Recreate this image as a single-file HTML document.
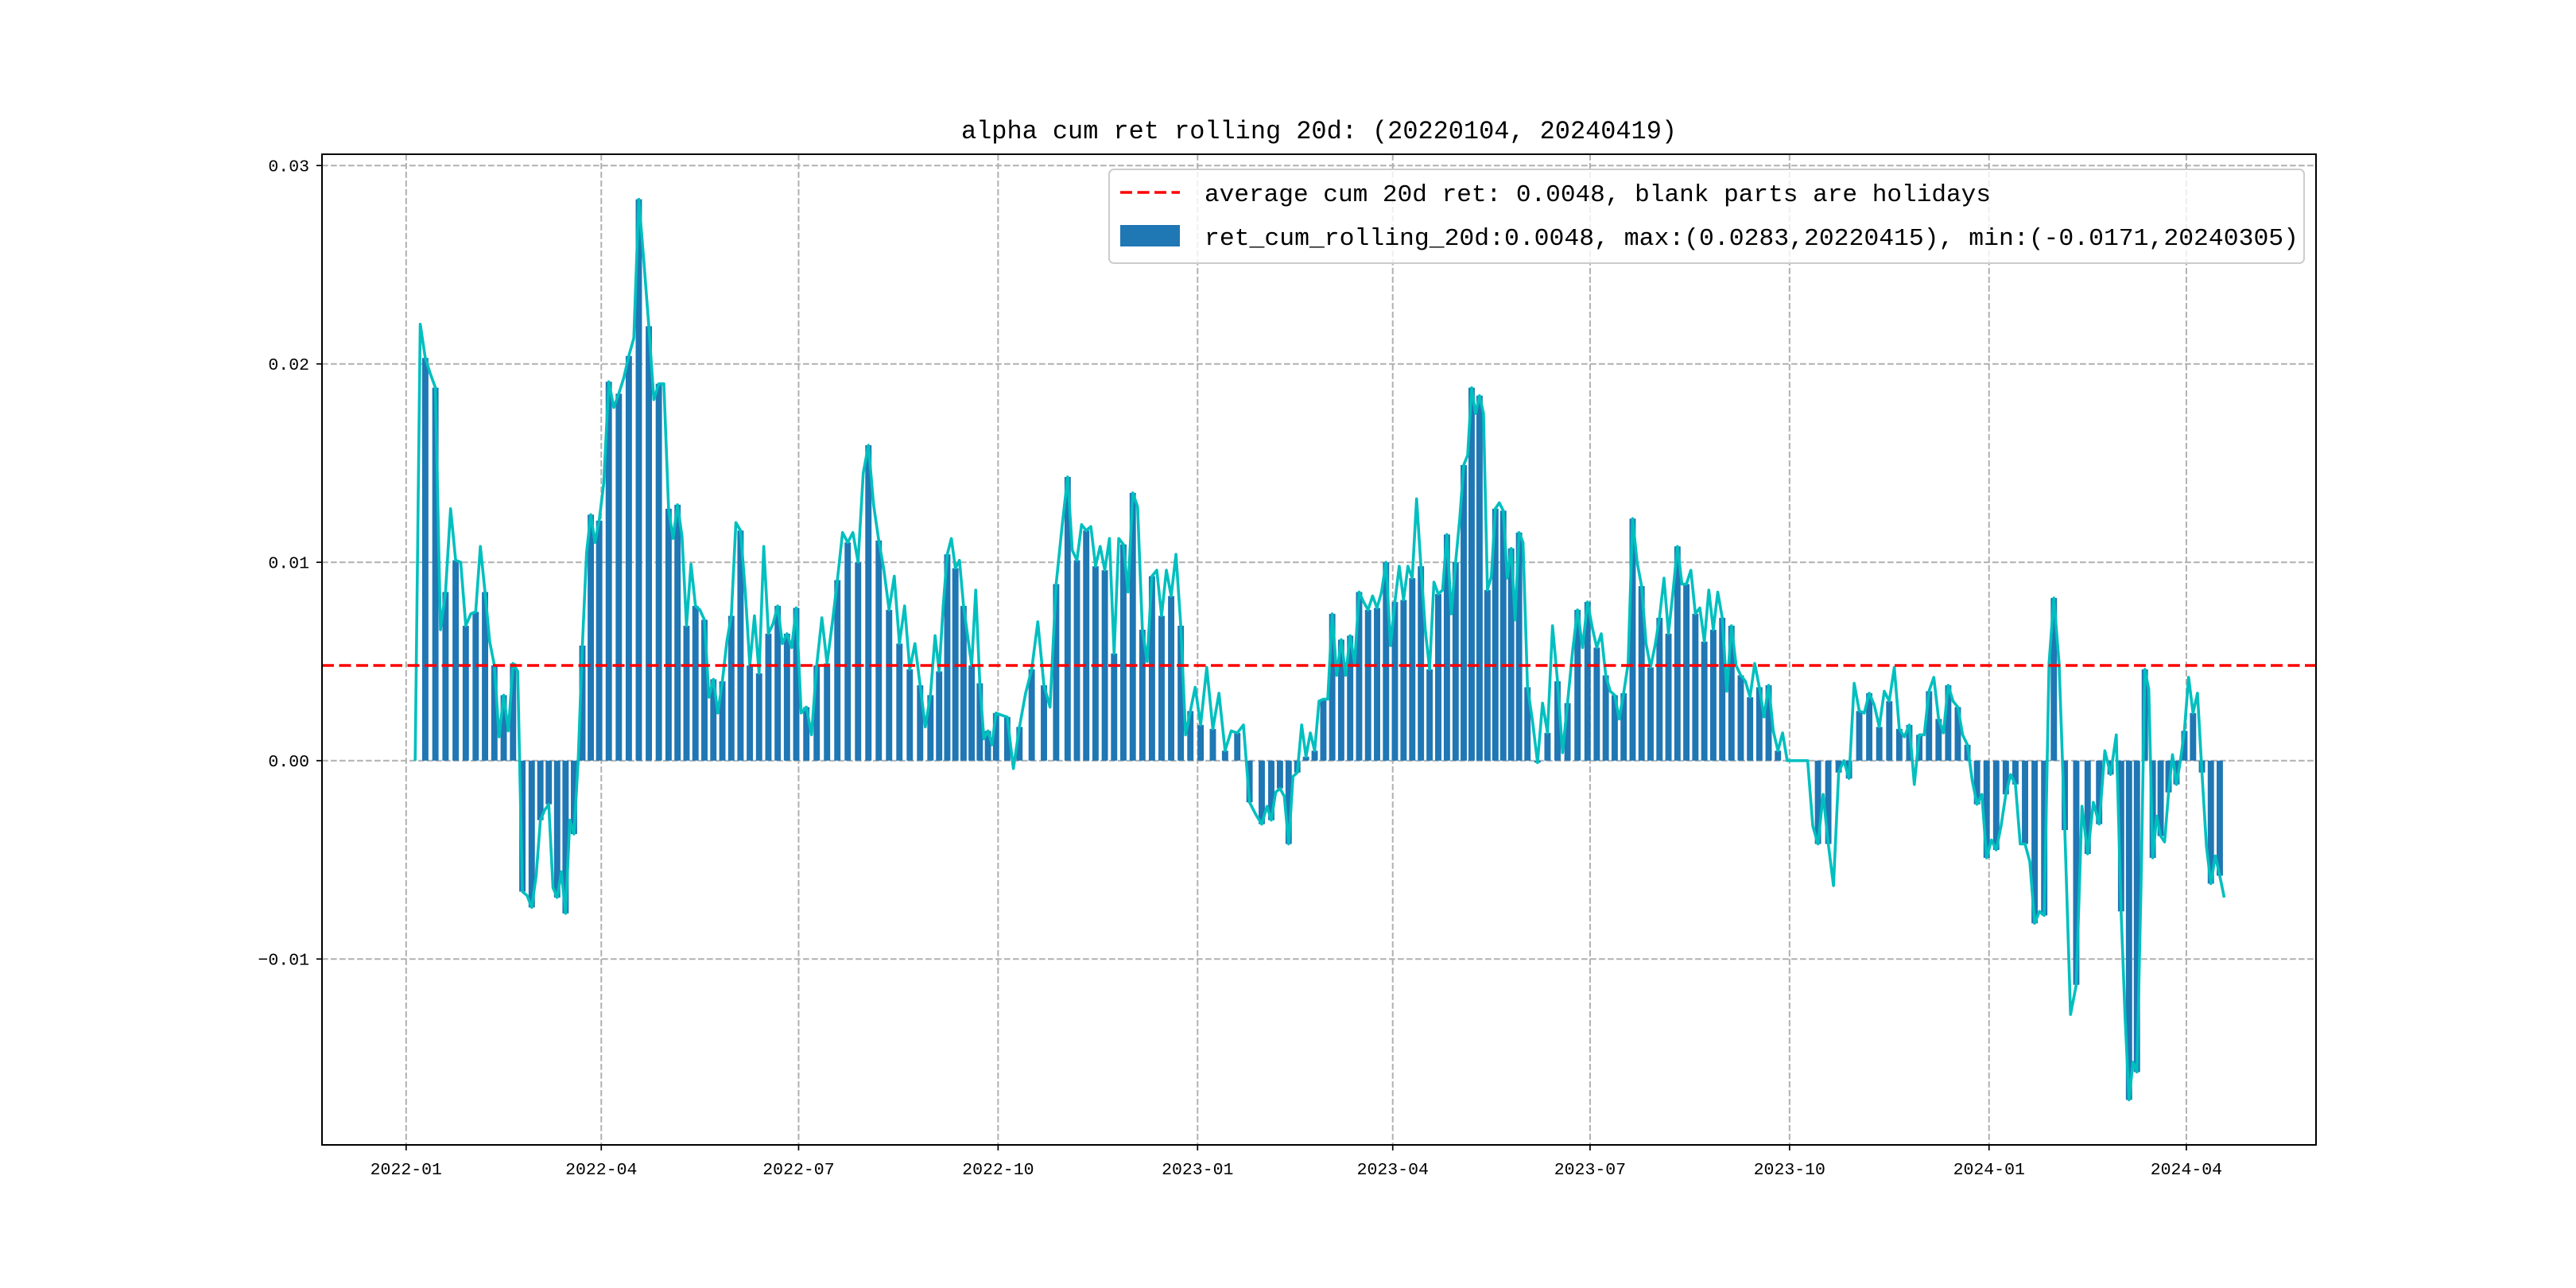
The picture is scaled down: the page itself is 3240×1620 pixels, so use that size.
<!DOCTYPE html>
<html>
<head>
<meta charset="utf-8">
<style>
  html, body { margin:0; padding:0; background:#fff; }
  svg { display:block; }
  text { font-family: "Liberation Mono", "Noto Sans CJK SC", monospace; fill:#000; }
</style>
</head>
<body>
<svg id="chart" width="3240" height="1620" viewBox="0 0 3240 1620" xmlns="http://www.w3.org/2000/svg">
  <rect x="0" y="0" width="3240" height="1620" fill="#ffffff"/>
  <rect x="405" y="194" width="2508" height="1246" fill="#ffffff"/>
  <g id="grid"></g>
  <g id="bars"></g>
  <g id="lineg"></g>
  <g id="avg"></g>
  <g id="axes"></g>
  <text x="1659" y="174" font-size="32" text-anchor="middle" textLength="900" lengthAdjust="spacingAndGlyphs">alpha cum ret rolling 20d: (20220104, 20240419)</text>
  <g>
    <rect x="1395" y="213" width="1503" height="118" rx="6" ry="6" fill="#ffffff" fill-opacity="0.8" stroke="#cccccc" stroke-width="2"/>
    <line x1="1409" y1="242" x2="1484" y2="242" stroke="#ff0000" stroke-width="3.5" stroke-dasharray="15,6.5"/>
    <text x="1515" y="253" font-size="31" textLength="989" lengthAdjust="spacingAndGlyphs">average cum 20d ret: 0.0048, blank parts are holidays</text>
    <rect x="1409" y="283" width="75" height="27" fill="#1f77b4"/>
    <text x="1515" y="308" font-size="31" textLength="1376" lengthAdjust="spacingAndGlyphs">ret_cum_rolling_20d:0.0048, max:(0.0283,20220415), min:(-0.0171,20240305)</text>
  </g>
</svg>
<script>
const monthKeys = ['2022-01','2022-02','2022-03','2022-04','2022-05','2022-06','2022-07','2022-08','2022-09','2022-10','2022-11','2022-12',
  '2023-01','2023-02','2023-03','2023-04','2023-05','2023-06','2023-07','2023-08','2023-09','2023-10','2023-11','2023-12',
  '2024-01','2024-02','2024-03','2024-04'];
// values in units of 1e-3
const monthlyValues = [
  [0, 22, 20.3, 19.5, 18.8, 6.6, 8.5, 12.7, 10.1, 10.0, 6.8, 7.4],
  [7.5, 10.8, 8.5, 6, 4.8, 1.2, 3.3, 1.5, 4.9, 4.5, -6.6, -6.8, -7.4],
  [-5.8, -3.0, -2.5, -2.2, -6.4, -6.9, -5.6, -7.7, -3.0, -3.7, 0, 5.8, 10.5, 12.4, 11.0, 12.1],
  [14, 19.1, 17.8, 18.5, 19.3, 20.4, 21.3, 28.3, 25.2, 21.9, 18.2, 19.0, 19.0],
  [12.7, 11.2, 12.9, 11.3, 6.8, 9.9, 7.8, 7.6, 7.1, 3.2, 4.1, 2.4, 4.0, 6.0, 7.3],
  [12.0, 11.6, 8.6, 4.8, 7.3, 4.4, 10.8, 6.4, 6.9, 7.8, 5.9, 6.4, 5.7, 7.7],
  [2.4, 2.7, 1.3, 4.8, 7.2, 4.9, 6.9, 9.1, 11.5, 11.0, 11.5, 10.0, 14.5],
  [15.9, 12.9, 11.1, 9.6, 7.6, 9.3, 5.9, 7.8, 4.6, 5.9, 3.8, 1.7, 3.3],
  [6.3, 4.5, 7.8, 10.4, 11.2, 9.7, 10.1, 7.8, 6.3, 4.8, 8.6, 3.9, 1.1, 1.5, 0.8, 2.4],
  [2.3, 2.2, -0.4, 1.7, 3.4, 4.6, 7.0, 3.8, 2.7, 8.9, 11.9],
  [14.3, 10.6, 10.1, 11.9, 11.6, 11.8, 9.8, 10.8, 9.6, 11.2, 5.4, 11.2, 10.9, 8.5],
  [13.5, 12.8, 6.6, 5.0, 9.3, 9.6, 7.3, 9.6, 8.3, 10.4, 6.8, 1.3, 2.5, 3.7],
  [1.8, 4.7, 1.6, 3.4, 0.5, 1.5, 1.4, 1.8, -2.1, -2.7, -3.2],
  [-2.3, -3.0, -1.6, -1.4, -1.8, -4.2, -0.8, -0.6, 1.8, 0.2, 1.4, 0.5, 3.0, 3.1],
  [3.1, 7.4, 4.3, 6.1, 4.3, 6.3, 4.9, 8.5, 8.0, 7.6, 8.3, 7.7, 8.5, 10.0, 5.8],
  [8.0, 9.8, 8.1, 9.8, 9.2, 13.2, 9.8, 6.6, 4.6, 9.0, 8.4, 8.6, 11.4, 7.4, 10.0],
  [12.2, 14.9, 15.4, 18.8, 17.5, 18.4, 17.5, 8.6, 9.3, 12.7, 13.0, 12.6, 9.2, 10.7, 7.1, 11.5, 11.0],
  [3.7, 2.0, -0.1, 2.9, 1.4, 6.8, 4.0, 0.4, 2.9, 5.5, 7.6, 5.7, 8.0],
  [6.7, 5.7, 6.4, 4.3, 3.5, 3.3, 2.1, 3.4, 4.9, 12.2, 10.0, 8.8, 5.9, 4.7, 5.8],
  [7.2, 9.2, 6.4, 8.5, 10.8, 8.9, 8.9, 9.6, 7.4, 7.7, 6.0, 8.6, 6.6, 8.5, 7.2],
  [3.5, 6.8, 4.8, 4.3, 4.0, 3.2, 4.9, 3.7, 2.2, 3.8, 1.5, 0.5, 1.4, 0],
  [0, 0, 0, 0, -3.3, -4.2, -1.7, -4.2, -6.3, -0.6, 0, -0.9, 3.9],
  [2.5, 2.4, 3.4, 2.8, 1.7, 3.5, 3.0, 4.7, 1.6, 1.2, 1.8, -1.2, 1.3],
  [1.3, 3.5, 4.2, 2.1, 1.4, 3.8, 3.0, 2.7, 1.3, 0.8, -1.0, -2.2, -1.7, -4.9],
  [-4.0, -4.5, -3.3, -1.7, -0.7, -1.2, -4.2, -4.2, -5.1, -8.2, -7.6, -7.8, 4.9, 8.2],
  [4.9, -3.5, -12.8, -11.3, -2.3, -4.7, -2.1, -3.2, 0.5, -0.7, 1.3],
  [-7.6, -12.9, -17.1, -15.2, -15.7, -6.7, 4.6, 3.6, -4.9, -2.8, -3.8, -4.1, -1.6, 0.3, -1.2, 0.0, 1.5],
  [4.2, 2.4, 3.4, -0.6, -4.3, -6.2, -4.8, -5.8, -6.9]
];
const yTickValues = [0.03, 0.02, 0.01, 0, -0.01];
const yTickLabels = ['0.03', '0.02', '0.01', '0.00', '\u22120.01'];
const xTickLabels = ['2022-01','2022-04','2022-07','2022-10','2023-01','2023-04','2023-07','2023-10','2024-01','2024-04'];
const avgValues = [0.0048];
const dateRange = ['2022-01-04', '2024-04-19'];

const NS = 'http://www.w3.org/2000/svg';
const L = 405, R = 2913, T = 194, B = 1440;
function dayOf(s) {
  const p = s.split('-').map(Number);
  return (Date.UTC(p[0], p[1] - 1, p[2] || 1) - Date.UTC(2022, 0, 1)) / 864e5;
}
const d0 = dayOf(dateRange[0]), d1 = dayOf(dateRange[1]);
const xm = (d1 - d0) * 0.05;
const xMin = d0 - xm, xMax = d1 + xm;
let allV = [];
monthlyValues.forEach(a => a.forEach(v => allV.push(v / 1000)));
const vMin = Math.min(...allV), vMax = Math.max(...allV);
const ym = (vMax - vMin) * 0.05;
const yMin = vMin - ym, yMax = vMax + ym;
function xScale(d) { return L + (d - xMin) / (xMax - xMin) * (R - L); }
function yScale(v) { return B - (v - yMin) / (yMax - yMin) * (B - T); }

function mk(tag, attrs, parent) {
  const e = document.createElementNS(NS, tag);
  for (const k in attrs) e.setAttribute(k, attrs[k]);
  parent.appendChild(e);
  return e;
}

const pts = [];
monthKeys.forEach((mkey, i) => {
  const p = mkey.split('-').map(Number);
  const ms = dayOf(mkey);
  const next = p[1] === 12 ? (p[0] + 1) + '-01' : p[0] + '-' + String(p[1] + 1).padStart(2, '0');
  const me = dayOf(next);
  const s = Math.max(ms, d0), e = Math.min(me, d1 + 0.5);
  const vals = monthlyValues[i];
  const n = vals.length;
  vals.forEach((v, k) => {
    pts.push({ d: s + (k + 0.5) * (e - s) / n, v: v / 1000 });
  });
});

const grid = document.getElementById('grid');
const axes = document.getElementById('axes');
yTickValues.forEach((v, i) => {
  const y = yScale(v);
  const g = mk('line', { x1: L, x2: R, y1: y, y2: y, stroke: '#b0b0b0', 'stroke-width': 2, 'stroke-dasharray': '7.7,3.3' }, grid);
  
  
  const t = mk('line', { x1: L - 7, x2: L, y1: y, y2: y, stroke: '#000', 'stroke-width': 1.7 }, axes);
  
  
  const tx = mk('text', { x: L - 16, y: y + 7.5, 'font-size': 21.5, 'text-anchor': 'end' }, axes);
  tx.textContent = yTickLabels[i];
  
  
});
xTickLabels.forEach(lbl => {
  const x = xScale(dayOf(lbl));
  const g = mk('line', { x1: x, x2: x, y1: T, y2: B, stroke: '#b0b0b0', 'stroke-width': 2, 'stroke-dasharray': '7.7,3.3' }, grid);
  
  
  const t = mk('line', { x1: x, x2: x, y1: B, y2: B + 7, stroke: '#000', 'stroke-width': 1.7 }, axes);
  
  
  const tx = mk('text', { x: x, y: B + 37, 'font-size': 21.5, 'text-anchor': 'middle' }, axes);
  tx.textContent = lbl;
  
  
});

const barsG = document.getElementById('bars');
const bw = 2.9;
pts.forEach((p, i) => {
  if (i % 2 !== 0 || p.v === 0) return;
  const x0 = xScale(p.d - bw / 2), x1 = xScale(p.d + bw / 2);
  const y0 = yScale(0), y1 = yScale(p.v);
  const r = mk('rect', { x: x0, y: Math.min(y0, y1), width: x1 - x0, height: Math.abs(y1 - y0), fill: '#1f77b4' }, barsG);
  
  
});

const lineG = document.getElementById('lineg');
const dstr = pts.map((p, i) => (i ? 'L' : 'M') + xScale(p.d).toFixed(2) + ',' + yScale(p.v).toFixed(2)).join(' ');
const path = mk('path', { d: dstr, fill: 'none', stroke: '#00bfbf', 'stroke-width': 3.6, 'stroke-linejoin': 'round' }, lineG);



const avgG = document.getElementById('avg');
const ya = yScale(avgValues[0]);
const al = mk('line', { x1: L, x2: R, y1: ya, y2: ya, stroke: '#ff0000', 'stroke-width': 3.5, 'stroke-dasharray': '15,6.5' }, avgG);



const sp = mk('rect', { x: L, y: T, width: R - L, height: B - T, fill: 'none', stroke: '#000', 'stroke-width': 2 }, axes);


</script>
</body>
</html>
